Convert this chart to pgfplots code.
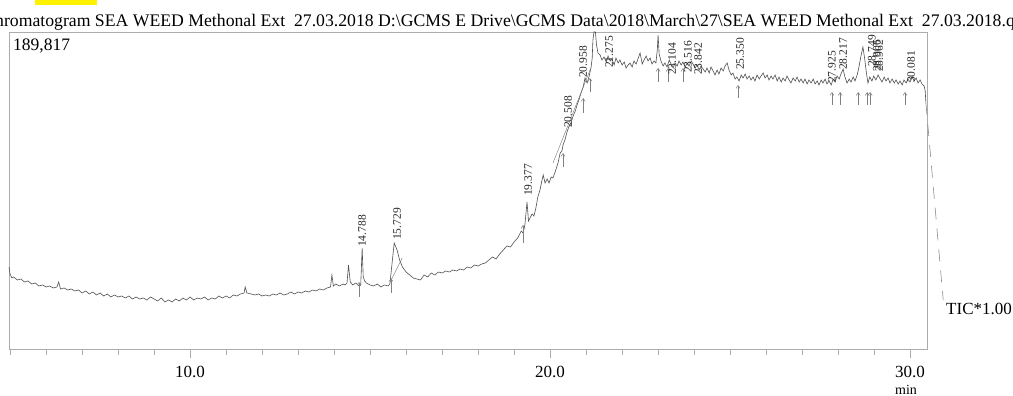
\documentclass[border=0pt]{standalone}
\usepackage{fontspec}
\setmainfont{Liberation Serif}
\usepackage{pgfplots}
\usepackage{pgfplotstable}
\pgfplotsset{compat=1.18}
\usetikzlibrary{arrows.meta}
\definecolor{trace}{HTML}{505050}
\definecolor{frame}{HTML}{ACACAC}
\definecolor{hl}{HTML}{FFF200}

\pgfplotstableread{
t h
4.97 82
5.00 75
5.05 71
5.10 72
5.20 69
5.30 70
5.40 67
5.50 68
5.60 65
5.70 66
5.80 63
5.90 64
6.00 62
6.10 63
6.20 61
6.30 62
6.35 67
6.40 60
6.50 61
6.60 59
6.70 60
6.80 58
6.90 59
7.00 56
7.10 58
7.20 55
7.30 57
7.40 54
7.50 56
7.60 53
7.70 55
7.80 52
7.90 54
8.00 52
8.10 53
8.20 51
8.30 53
8.40 50
8.50 52
8.60 50
8.70 51
8.80 49
8.90 52
9.00 50
9.10 48
9.20 51
9.30 47
9.40 49
9.50 47
9.60 50
9.70 48
9.80 51
9.90 49
10.00 52
10.10 49
10.20 51
10.30 50
10.40 52
10.50 49
10.60 51
10.70 50
10.80 53
10.90 51
11.00 53
11.10 51
11.20 54
11.30 53
11.40 55
11.50 56
11.53 62
11.58 56
11.70 55
11.80 54
11.90 55
12.00 53
12.10 54
12.20 53
12.30 55
12.40 54
12.50 56
12.60 54
12.70 55
12.80 57
12.90 55
13.00 57
13.10 56
13.20 58
13.30 57
13.40 59
13.50 58
13.60 60
13.70 59
13.80 61
13.90 62
13.94 74
13.98 63
14.05 65
14.15 63
14.25 65
14.30 64
14.36 66
14.40 84
14.45 67
14.52 64
14.60 66
14.70 63
14.74 64
14.78 101
14.81 72
14.85 68
14.90 66
15.00 64
15.10 63
15.20 65
15.30 62
15.40 64
15.50 63
15.55 65
15.67 106
15.75 99
15.82 89
15.90 82
16.00 77
16.10 74
16.20 71
16.30 70
16.40 69
16.50 74
16.60 72
16.70 76
16.80 74
16.90 77
17.00 76
17.10 78
17.20 77
17.30 79
17.40 78
17.50 80
17.60 79
17.70 82
17.80 81
17.90 84
18.00 83
18.10 85
18.20 86
18.30 89
18.40 92
18.50 90
18.60 95
18.70 99
18.80 103
18.90 102
19.00 107
19.10 111
19.20 118
19.25 116
19.30 124
19.36 147
19.40 128
19.50 135
19.55 133
19.60 140
19.66 152
19.72 159
19.77 168
19.81 174
19.86 166
19.92 170
19.97 166
20.03 172
20.08 171
20.15 178
20.22 186
20.28 196
20.33 198
20.36 204
20.42 210
20.47 217
20.52 222
20.58 226
20.64 233
20.70 238
20.75 244
20.81 250
20.86 256
20.92 262
20.97 271
21.03 266
21.08 272
21.14 282
21.17 291
21.19 309
21.22 317
21.26 317
21.29 304
21.33 296
21.39 294
21.44 289
21.50 292
21.56 287
21.61 293
21.67 288
21.72 290
21.78 284
21.83 291
21.89 286
21.94 289
22.00 284
22.06 287
22.11 281
22.17 284
22.22 286
22.28 282
22.33 288
22.39 285
22.44 290
22.50 296
22.56 285
22.61 289
22.67 293
22.72 288
22.78 291
22.83 285
22.89 288
22.94 286
22.98 300
23.00 314
23.03 295
23.08 288
23.14 283
23.19 286
23.25 282
23.31 289
23.36 285
23.42 281
23.47 286
23.53 283
23.58 288
23.64 284
23.69 287
23.75 282
23.81 286
23.86 283
23.92 288
23.97 285
24.03 281
24.08 284
24.14 279
24.19 283
24.25 280
24.31 277
24.36 281
24.42 276
24.47 282
24.53 278
24.58 274
24.64 279
24.69 275
24.75 281
24.81 278
24.86 283
24.92 286
24.97 279
25.03 274
25.08 276
25.14 270
25.19 272
25.25 268
25.31 274
25.36 271
25.42 275
25.47 270
25.53 273
25.58 269
25.64 272
25.69 268
25.75 274
25.81 270
25.86 273
25.92 276
25.97 271
26.03 274
26.08 269
26.14 273
26.19 270
26.25 274
26.31 268
26.36 272
26.42 267
26.47 271
26.53 268
26.58 273
26.64 269
26.69 266
26.75 271
26.81 268
26.86 272
26.92 267
26.97 270
27.03 266
27.08 270
27.14 265
27.19 269
27.25 266
27.31 270
27.36 265
27.42 268
27.47 264
27.53 269
27.58 266
27.64 270
27.69 265
27.75 268
27.81 264
27.86 270
27.92 267
27.97 273
28.03 270
28.08 275
28.14 280
28.19 272
28.25 266
28.31 270
28.36 267
28.42 272
28.47 268
28.53 274
28.58 282
28.63 292
28.69 302
28.74 290
28.78 278
28.83 266
28.88 272
28.94 268
28.99 273
29.05 269
29.11 274
29.17 270
29.22 267
29.28 272
29.33 268
29.39 271
29.44 266
29.50 270
29.56 266
29.61 269
29.67 265
29.72 268
29.78 264
29.83 269
29.89 266
29.94 270
30.00 267
30.06 272
30.11 268
30.17 271
30.22 266
30.28 269
30.33 265
30.39 263
30.42 258
30.44 246
}\tracedata

\pgfplotstableread{
t h
30.44 246
30.92 49
}\taildata

\pgfplotstableread{
t h v
14.69 52 15
15.58 56 15
19.25 106 18
20.36 182 14
20.92 236 15
21.11 257 14
23.00 267 14
23.28 267 14
23.69 267 14
25.22 251 13
27.83 244 13
28.06 244 13
28.56 244 13
28.81 244 13
28.89 244 13
29.86 244 13
}\arrowdata

\begin{document}
\begin{tikzpicture}[x=1pt,y=1pt]
\useasboundingbox (0,0) rectangle (1013,396);
\fill[hl] (35,391) rectangle (97,396);
\node[anchor=base west, inner sep=0pt, font=\fontsize{17.7}{17.7}\selectfont] at (-5,369)
  {\llap{C}hromatogram SEA WEED Methonal Ext\ \ 27.03.2018 D:\textbackslash GCMS E Drive\textbackslash GCMS Data\textbackslash 2018\textbackslash March\textbackslash 27\textbackslash SEA WEED Methonal Ext\ \ 27.03.2018.qgd};
\begin{axis}[
  at={(9pt,47pt)}, anchor=south west,
  scale only axis, width=918pt, height=317pt,
  xmin=4.97, xmax=30.47, ymin=0, ymax=317,
  clip=false,
  axis line style={frame, line width=0.8pt},
  ytick=\empty,
  xtick={10,20,30}, xticklabels={10.0,20.0,30.0},
  minor xtick={5,6,...,30},
  xtick pos=bottom, tick align=outside,
  major tick length=9pt, minor tick length=6pt,
  tick style={frame, line width=0.8pt},
  xticklabel style={font=\fontsize{17}{17}\selectfont, text=black, yshift=-5pt},
]
\addplot[trace, line width=0.6pt] table[x=t, y=h] {\tracedata};
\addplot[frame!80!black, line width=0.6pt, dash pattern=on 12pt off 9pt] table[x=t, y=h] {\taildata};
\addplot[gray, line width=0.5pt, -{Straight Barb[length=3pt, width=4pt]},
  quiver={u=0, v=\thisrow{v}}] table[x=t, y=h] {\arrowdata};
\addplot[gray, line width=0.45pt] coordinates {(15.56,67) (15.89,91)};
\addplot[gray, line width=0.45pt] coordinates {(20.08,186) (21.11,279)};
\begin{scope}[every node/.style={rotate=90, anchor=west, inner sep=0pt, text=black!85, font=\fontsize{11.5}{11.5}\selectfont}]
\node at (axis cs:14.78,102) {14.788};
\node at (axis cs:15.75,109) {15.729};
\node at (axis cs:19.39,153) {19.377};
\node at (axis cs:20.50,221) {20.508};
\node at (axis cs:20.92,271) {20.958};
\node at (axis cs:21.64,281) {21.275};
\node at (axis cs:23.39,274) {23.104};
\node at (axis cs:23.83,276) {23.516};
\node at (axis cs:24.11,274) {23.842};
\node at (axis cs:25.28,279) {25.350};
\node at (axis cs:27.83,266) {27.925};
\node at (axis cs:28.14,279) {28.217};
\node at (axis cs:28.94,282) {28.749};
\node at (axis cs:29.08,277) {28.906};
\node at (axis cs:29.14,277) {28.962};
\node at (axis cs:30.03,266) {30.081};
\end{scope}
\end{axis}
\node[anchor=base west, inner sep=0pt, font=\fontsize{17.5}{17.5}\selectfont] at (13,345) {189,817};
\node[anchor=base west, inner sep=0pt, font=\fontsize{17}{17}\selectfont] at (946,81) {TIC*1.00};
\node[anchor=base, inner sep=0pt, font=\fontsize{14}{14}\selectfont] at (906,1) {min};
\end{tikzpicture}
\end{document}
